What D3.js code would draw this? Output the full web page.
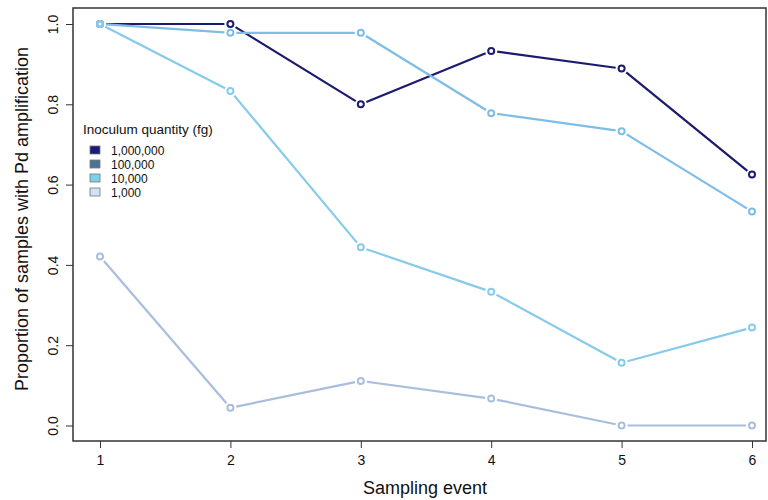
<!DOCTYPE html>
<html>
<head>
<meta charset="utf-8">
<script src="https://cdn.jsdelivr.net/npm/d3@7"></script>
<style>
  body { margin: 0; background: #fff; }
  text { font-family: "Liberation Sans", Arial, Helvetica, sans-serif; fill: #111; }
</style>
</head>
<body>
<svg id="chart" width="768" height="500"></svg>
<script>
var events = [1, 2, 3, 4, 5, 6];
var yTicks = [0, 0.2, 0.4, 0.6, 0.8, 1.0];
var groups = ["1,000,000", "100,000", "10,000", "1,000"];
var q1000000 = [1.0, 1.0, 0.8, 0.933, 0.889, 0.625];
var q100000 = [1.0, 0.978, 0.978, 0.778, 0.733, 0.533];
var q10000 = [1.0, 0.833, 0.444, 0.333, 0.156, 0.244];
var q1000 = [0.421, 0.044, 0.111, 0.067, 0.0, 0.0];

var lineColors = ["#1b1b6e", "#7dbde6", "#86cbea", "#a9bedd"];
var keyColors = ["#1b1b7a", "#4a7592", "#80cfea", "#cfe1fb"];
var series = [q1000000, q100000, q10000, q1000];

var svg = d3.select("#chart"),
    box = {left: 73, right: 766, top: 8, bottom: 441};

var x = d3.scaleLinear().domain([1, 6]).range([100, 752]);
var y = d3.scaleLinear().domain([0, 1]).range([425.5, 24]);

// frame
svg.append("rect")
  .attr("x", box.left).attr("y", box.top)
  .attr("width", box.right - box.left).attr("height", box.bottom - box.top)
  .attr("fill", "none").attr("stroke", "#333").attr("stroke-width", 1.5);

// x axis
var xAxis = svg.append("g")
  .attr("transform", "translate(0," + box.bottom + ")")
  .call(d3.axisBottom(x).tickValues(events).tickSize(7).tickPadding(7).tickFormat(d3.format("d")));
xAxis.select(".domain").remove();
xAxis.selectAll("line").attr("stroke", "#333");
xAxis.selectAll("text").style("font-size", "14px").attr("fill", "#111");

// y axis
var yAxis = svg.append("g")
  .attr("transform", "translate(" + box.left + ",0)")
  .call(d3.axisLeft(y).tickValues(yTicks).tickSize(7).tickFormat(d3.format(".1f")));
yAxis.select(".domain").remove();
yAxis.selectAll("line").attr("stroke", "#333");
yAxis.selectAll("text")
  .style("font-size", "14px").attr("fill", "#111")
  .attr("x", null).attr("dy", null)
  .attr("text-anchor", "middle")
  .attr("transform", "translate(-15,0) rotate(-90)");

// titles
svg.append("text")
  .attr("x", 425).attr("y", 494)
  .attr("text-anchor", "middle")
  .style("font-size", "18px")
  .text("Sampling event");

svg.append("text")
  .attr("transform", "translate(28,219) rotate(-90)")
  .attr("text-anchor", "middle")
  .style("font-size", "18px")
  .text("Proportion of samples with Pd amplification");

// lines with gaps around points (type "b")
var gap = 6;
series.forEach(function(vals, s) {
  var g = svg.append("g");
  for (var i = 0; i < vals.length - 1; i++) {
    var x0 = x(events[i]), y0 = y(vals[i]),
        x1 = x(events[i + 1]), y1 = y(vals[i + 1]);
    var len = Math.sqrt((x1 - x0) * (x1 - x0) + (y1 - y0) * (y1 - y0));
    var ux = (x1 - x0) / len, uy = (y1 - y0) / len;
    g.append("line")
      .attr("x1", x0 + ux * gap).attr("y1", y0 + uy * gap)
      .attr("x2", x1 - ux * gap).attr("y2", y1 - uy * gap)
      .attr("stroke", lineColors[s]).attr("stroke-width", 2.2);
  }
  g.selectAll("circle")
    .data(vals)
    .enter().append("circle")
      .attr("cx", function(d, i) { return x(events[i]); })
      .attr("cy", function(d) { return y(d); })
      .attr("r", 3)
      .attr("fill", "none")
      .attr("stroke", lineColors[s])
      .attr("stroke-width", 2);
});

// legend
var legend = svg.append("g").attr("transform", "translate(83,0)");
legend.append("text")
  .attr("x", 0).attr("y", 134)
  .style("font-size", "13.5px")
  .text("Inoculum quantity (fg)");

var item = legend.selectAll(".item")
  .data(groups)
  .enter().append("g")
    .attr("class", "item")
    .attr("transform", function(d, i) { return "translate(0," + (150 + i * 14) + ")"; });

item.append("rect")
  .attr("x", 7).attr("y", -4)
  .attr("width", 10).attr("height", 8)
  .attr("fill", function(d, i) { return keyColors[i]; })
  .attr("stroke", "#777").attr("stroke-width", 0.8);

item.append("text")
  .attr("x", 28).attr("y", 4.5)
  .style("font-size", "12px")
  .text(function(d) { return d; });
</script>
</body>
</html>
